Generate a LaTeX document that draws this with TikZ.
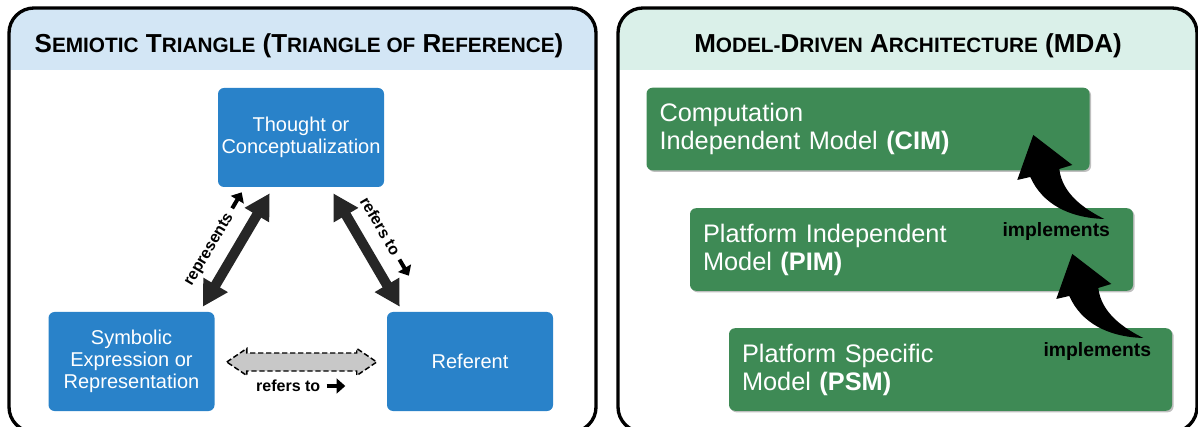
\documentclass[tikz,border=0pt]{standalone}
\usepackage{fontspec}
\setmainfont{Liberation Sans}
\usetikzlibrary{arrows.meta,calc,shadows}

\definecolor{panelblue}{RGB}{211,230,245}
\definecolor{panelgreen}{RGB}{218,240,233}
\definecolor{boxblue}{RGB}{41,130,201}
\definecolor{boxgreen}{RGB}{62,138,85}
\definecolor{arrowdark}{RGB}{38,38,38}
\definecolor{arrowgray}{RGB}{200,200,200}

% small-capital imitation for the panel headings
\newcommand\smc[1]{{\fontsize{15.6pt}{18pt}\selectfont #1}}
% heavy right arrow placed after the relation labels
\newcommand\rarr{\tikz[baseline=-3.8pt]{\draw[line width=3pt,
  -{Triangle[length=6.5pt,width=11pt]}] (0pt,0pt) -- (14pt,0pt);}}

\begin{document}
\begin{tikzpicture}[x=0.75pt,y=-0.75pt,
  panel/.style={draw=black, line width=2.5pt, rounded corners=18.75pt},
  heading/.style={anchor=base, inner sep=0pt, font=\bfseries\fontsize{19.5pt}{22pt}\selectfont},
  bluebox/.style={fill=boxblue, rounded corners=4.5pt, text=white, align=center,
    minimum width=124.5pt, minimum height=74.25pt, inner sep=2pt,
    font=\fontsize{15pt}{16.5pt}\selectfont},
  greenbox/.style={fill=boxgreen, rounded corners=4.5pt, text=white, align=left,
    text width=312.75pt, minimum height=61.9pt, inner xsep=9.75pt, inner ysep=2pt,
    font=\fontsize{19pt}{21pt}\selectfont,
    drop shadow={shadow xshift=1.2pt, shadow yshift=-1.2pt, opacity=0.25, fill=black}},
  darkarrow/.style={draw=arrowdark, line width=7.5pt,
    {Triangle[length=19pt,width=20pt]}-{Triangle[length=19pt,width=20pt]}},
  dasharrow/.style={fill=arrowgray, draw=black, line width=1.1pt, dash pattern=on 4pt off 2pt},
  lbl/.style={inner sep=0pt, font=\bfseries\fontsize{12pt}{14pt}\selectfont},
  impl/.style={inner sep=0pt, font=\bfseries\fontsize{14.5pt}{16pt}\selectfont},
  implarrow/.pic={\fill[black] (0,0) .. controls (-20,-10) and (-42,-25) .. (-45,-50)
     -- (-32,-54) -- (-71,-84) -- (-87,-39) -- (-74,-42)
     .. controls (-62,-15) and (-35,-1) .. (0,0) -- cycle;}
]
\useasboundingbox (0,0) rectangle (1198,427);
\clip (0,0) rectangle (1198,427);

% ---------- left panel: semiotic triangle ----------
\begin{scope}
  \clip[rounded corners=18.75pt] (9,8) rectangle (596,432);
  \fill[panelblue] (9,8) rectangle (596,70);
\end{scope}
\draw[panel] (9,8) rectangle (596,432);
\node[heading] (ltitle) at (299,53)
  {S\smc{EMIOTIC} T\smc{RIANGLE} (T\smc{RIANGLE OF} R\smc{EFERENCE})};

\node[bluebox] (thought) at (301,137.5) {Thought or\\Conceptualization};
\node[bluebox] (sym) at (131.5,361.5) {Symbolic\\Expression or\\Representation};
\node[bluebox] (ref) at (470,361.5) {Referent};

\coordinate (tl) at ($(thought.south west)+(52,6)$);
\coordinate (tr) at ($(thought.south east)+(-51,6)$);
\coordinate (sl) at ($(sym.north east)+(-12,-5)$);
\coordinate (rr) at ($(ref.north west)+(13,-5)$);

\draw[darkarrow] (sl) -- (tl);
\draw[darkarrow] (tr) -- (rr);
\path (sl) -- (tl) node[lbl, midway, sloped, above=12pt] (lrep) {represents \rarr};
\path (tr) -- (rr) node[lbl, midway, sloped, above=12pt] (lref1) {refers to \rarr};

\coordinate (bl) at ($(sym.east)+(12,0.5)$);
\coordinate (br) at ($(ref.west)+(-10,0.5)$);
\draw[dasharrow] (bl) -- ($(bl)+(20,-13.5)$) -- ($(bl)+(20,-9)$) -- ($(br)+(-20,-9)$)
  -- ($(br)+(-20,-13.5)$) -- (br) -- ($(br)+(-20,13.5)$) -- ($(br)+(-20,9)$)
  -- ($(bl)+(20,9)$) -- ($(bl)+(20,13.5)$) -- cycle;
\node[lbl] (lref2) at ($(bl)!0.5!(br)+(0,24)$) {refers to \rarr};

% ---------- right panel: model-driven architecture ----------
\begin{scope}
  \clip[rounded corners=18.75pt] (618,8) rectangle (1197,432);
  \fill[panelgreen] (618,8) rectangle (1197,70);
\end{scope}
\draw[panel] (618,8) rectangle (1197,432);
\node[heading] (rtitle) at (908,53)
  {M\smc{ODEL-}D\smc{RIVEN} A\smc{RCHITECTURE} (MDA)};

\node[greenbox] (cim) at (868,129) {Computation\\Independent Model \textbf{(CIM)}};
\node[greenbox] (pim) at (911.5,249.5) {Platform Independent\\Model \textbf{(PIM)}};
\node[greenbox] (psm) at (950.5,369.5) {Platform Specific\\Model \textbf{(PSM)}};

\pic at ($(pim.north east)+(-29,11)$) {implarrow};
\node[impl] (impl1) at ($(pim.north east)+(-77,24)$) {implements};
\pic at ($(psm.north east)+(-29,10)$) {implarrow};
\node[impl] (impl2) at ($(psm.north east)+(-75,24)$) {implements};
\end{tikzpicture}
\end{document}
